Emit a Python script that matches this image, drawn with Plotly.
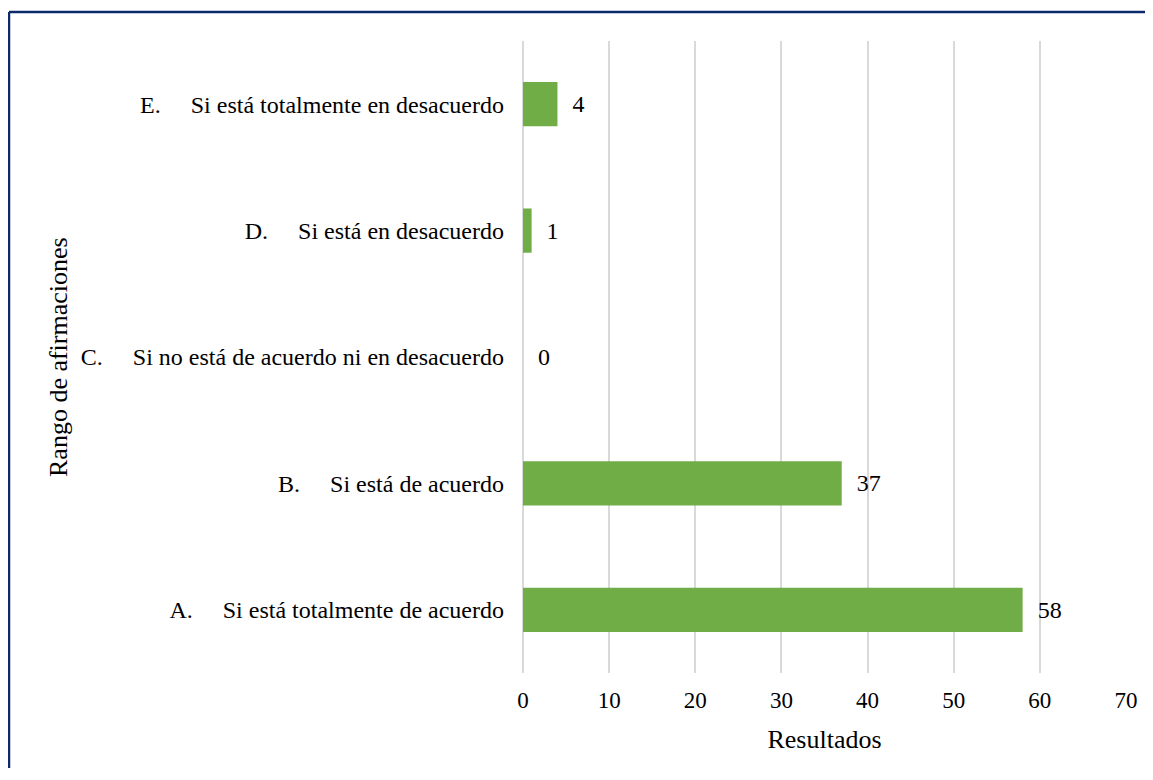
import plotly.graph_objects as go

NB = "\u00a0"

letters = ["A.", "B.", "C.", "D.", "E."]
statements = [
    "Si está totalmente de acuerdo",
    "Si está de acuerdo",
    "Si no está de acuerdo ni en desacuerdo",
    "Si está en desacuerdo",
    "Si está totalmente en desacuerdo",
]
results = [58, 37, 0, 1, 4]
x_ticks = [0, 10, 20, 30, 40, 50, 60, 70]

FONT = "Liberation Serif, Times New Roman, serif"
GREEN = "#70AD47"
GRID = "#D9D9D9"
NAVY = "#0B2A6B"

categories = [l + NB * 5 + s for l, s in zip(letters, statements)]

fig = go.Figure(go.Bar(
    x=results,
    y=categories,
    orientation="h",
    marker=dict(color=GREEN, line=dict(width=0)),
    width=0.35,
    text=[NB * 2 + str(v) for v in results],
    textposition="outside",
    textfont=dict(family=FONT, size=24, color="#000000"),
    cliponaxis=False,
    hoverinfo="x+y",
))

# the page body has an 8px margin, so the figure is sized to fit inside it
W, H = 1137, 760
L, R, T, B = 515, 19, 33, 95
pw, ph = W - L - R, H - T - B

# frame: only the left and top edges fall inside the picture
left_x = (1 - L) / pw
top_y = (T + ph - 4) / ph

fig.update_layout(
    width=W, height=H,
    margin=dict(l=L, r=R, t=T, b=B, autoexpand=False),
    paper_bgcolor="white",
    plot_bgcolor="white",
    font=dict(family=FONT, size=24, color="#000000"),
    showlegend=False,
    xaxis=dict(
        range=[0, 70],
        tickvals=x_ticks,
        showgrid=True, gridcolor=GRID, gridwidth=1.5,
        zeroline=True, zerolinecolor=GRID, zerolinewidth=1.5,
        showline=False, ticks="",
        ticklabelstandoff=11,
        tickfont=dict(size=23),
        title=dict(text="Resultados", font=dict(size=26), standoff=17),
        automargin=False,
        fixedrange=True,
    ),
    yaxis=dict(
        categoryorder="array", categoryarray=categories,
        range=[-0.5, 4.5],
        showgrid=False, zeroline=False, showline=False, ticks="",
        ticklabelstandoff=18,
        tickfont=dict(size=24),
        automargin=False,
        fixedrange=True,
    ),
    annotations=[dict(
        text="Rango de afirmaciones",
        xref="paper", yref="paper",
        x=(50 - L) / pw, y=(T + ph - 349) / ph,
        textangle=-90, showarrow=False,
        font=dict(family=FONT, size=26, color="#000000"),
        xanchor="center", yanchor="middle",
    )],
    shapes=[
        dict(type="line", xref="paper", yref="paper",
             x0=left_x, x1=left_x, y0=top_y, y1=-1,
             line=dict(color=NAVY, width=2.5), layer="above"),
        dict(type="line", xref="paper", yref="paper",
             x0=left_x, x1=2, y0=top_y, y1=top_y,
             line=dict(color=NAVY, width=2.5), layer="above"),
    ],
)

fig.write_html("out.html")
